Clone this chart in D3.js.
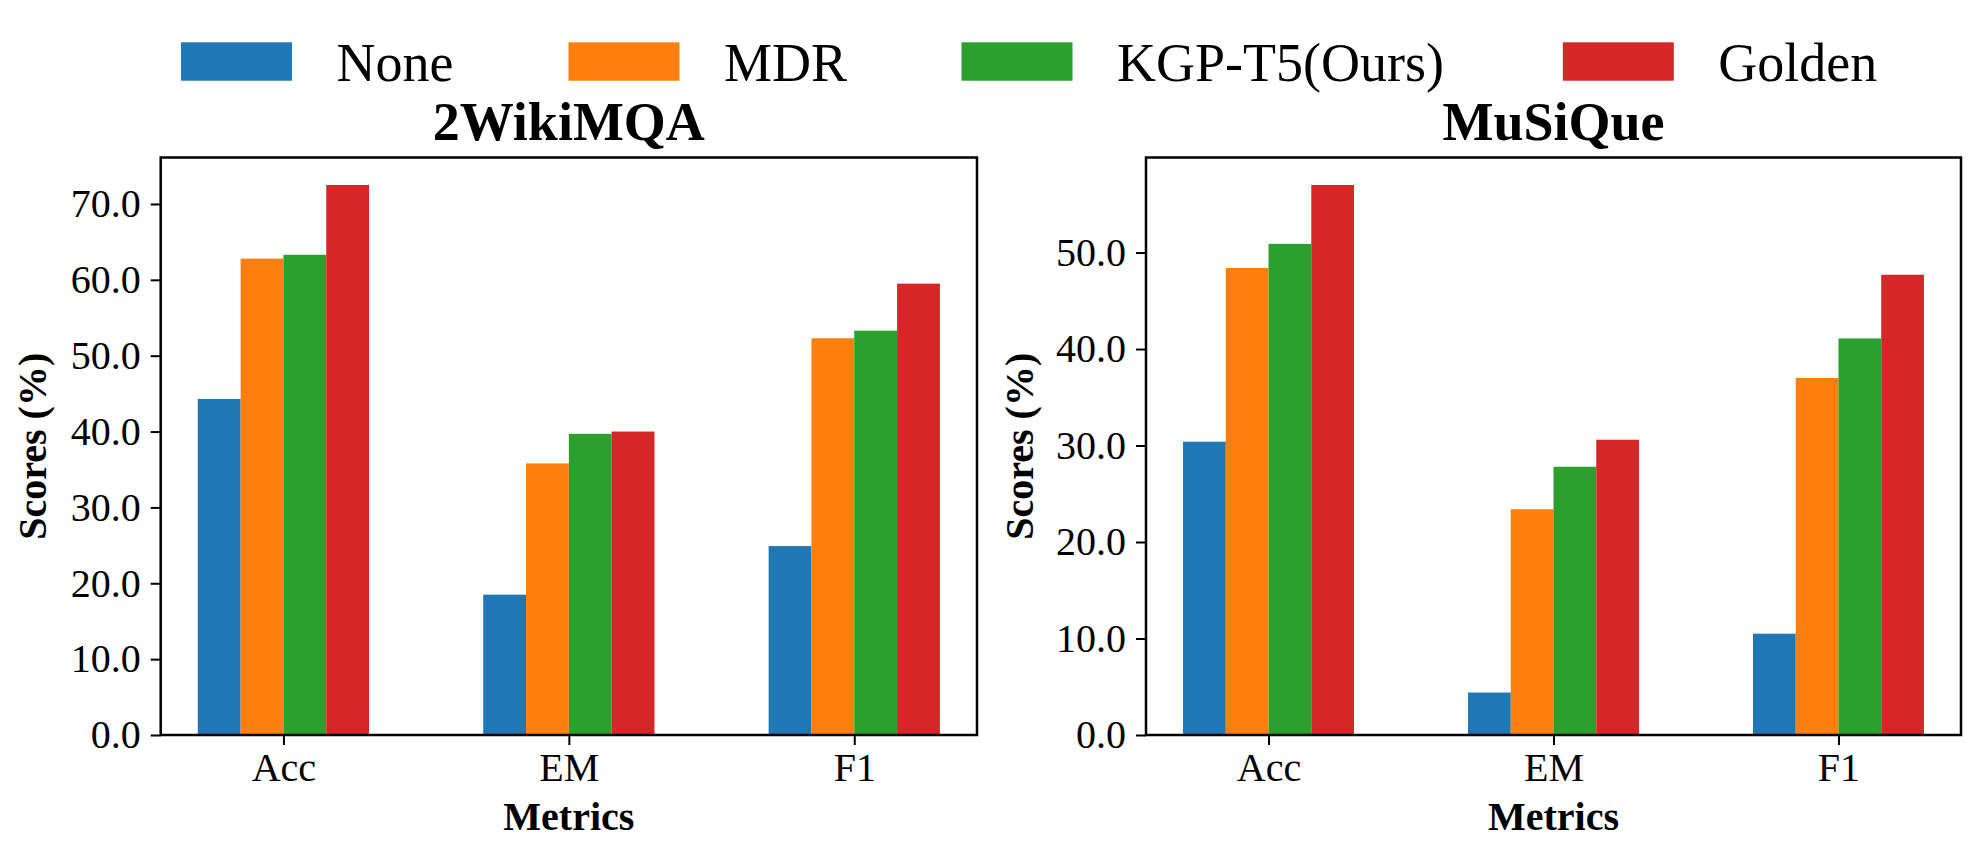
<!DOCTYPE html>
<html>
<head>
<meta charset="utf-8">
<script src="https://cdn.jsdelivr.net/npm/d3@7"></script>
<style>
  html, body { margin: 0; padding: 0; background: #fff; }
  svg { display: block; font-family: "Liberation Serif", "Times New Roman", serif; }
</style>
</head>
<body>
<svg id="chart" width="1981" height="862"></svg>
<script>
// ---- data ----
const metrics = ["Acc", "EM", "F1"];
const methods = ["None", "MDR", "KGP-T5(Ours)", "Golden"];
const colors = ["#1f77b4", "#ff7f0e", "#2ca02c", "#d62728"];

const titles = ["2WikiMQA", "MuSiQue"];

// 2WikiMQA
const wiki_none   = [44.3, 18.5, 24.9];
const wiki_mdr    = [62.8, 35.8, 52.3];
const wiki_kgp    = [63.3, 39.7, 53.3];
const wiki_golden = [72.5, 40.0, 59.5];

// MuSiQue
const musique_none   = [30.4, 4.4, 10.5];
const musique_mdr    = [48.4, 23.4, 37.0];
const musique_kgp    = [50.9, 27.8, 41.1];
const musique_golden = [57.0, 30.6, 47.7];

const wikiTicks = [0, 10, 20, 30, 40, 50, 60, 70];
const musiqueTicks = [0, 10, 20, 30, 40, 50];

const yLabel = "Scores (%)";
const xLabel = "Metrics";

// ---- layout ----
const svg = d3.select("#chart");
const axTop = 157.5, axBottom = 735;
const panels = [
  { title: titles[0], series: [wiki_none, wiki_mdr, wiki_kgp, wiki_golden], ticks: wikiTicks,
    left: 160.7, right: 977, ylabelX: 46 },
  { title: titles[1], series: [musique_none, musique_mdr, musique_kgp, musique_golden], ticks: musiqueTicks,
    left: 1146, right: 1961, ylabelX: 1033 }
];

const barW = 0.15;
const nS = methods.length;

panels.forEach(p => {
  const maxV = d3.max(p.series.flat());
  const y = d3.scaleLinear().domain([0, maxV * 1.05]).range([axBottom, axTop]);
  const lo = -(nS / 2) * barW, hi = (metrics.length - 1) + (nS / 2) * barW;
  const pad = (hi - lo) * 0.05;
  const x = d3.scaleLinear().domain([lo - pad, hi + pad]).range([p.left, p.right]);

  const g = svg.append("g");

  // bars
  p.series.forEach((vals, si) => {
    g.selectAll(null).data(vals).enter().append("rect")
      .attr("x", (d, i) => x(i + (si - (nS - 1) / 2) * barW - barW / 2))
      .attr("width", x(barW) - x(0))
      .attr("y", d => y(d))
      .attr("height", d => y(0) - y(d))
      .attr("fill", colors[si]);
  });

  // y axis
  const yAxis = d3.axisLeft(y).tickValues(p.ticks).tickFormat(d3.format(".1f")).tickSize(10).tickPadding(10);
  const ya = g.append("g").attr("transform", `translate(${p.left},0)`).call(yAxis);
  ya.select(".domain").remove();
  ya.selectAll("line").attr("stroke", "#000").attr("stroke-width", 2);
  ya.selectAll("text").attr("font-size", 40).attr("fill", "#000")
    .attr("font-family", "Liberation Serif, Times New Roman, serif");

  // x axis
  const xAxis = d3.axisBottom(x).tickValues(d3.range(metrics.length)).tickFormat(i => metrics[i]).tickSize(10).tickPadding(8);
  const xa = g.append("g").attr("transform", `translate(0,${axBottom})`).call(xAxis);
  xa.select(".domain").remove();
  xa.selectAll("line").attr("stroke", "#000").attr("stroke-width", 2);
  xa.selectAll("text").attr("font-size", 40).attr("fill", "#000")
    .attr("font-family", "Liberation Serif, Times New Roman, serif");

  // frame
  g.append("rect").attr("x", p.left).attr("y", axTop)
    .attr("width", p.right - p.left).attr("height", axBottom - axTop)
    .attr("fill", "none").attr("stroke", "#000").attr("stroke-width", 2.5);

  // title
  g.append("text").attr("x", (p.left + p.right) / 2).attr("y", 140)
    .attr("text-anchor", "middle").attr("font-size", 54).attr("font-weight", "bold")
    .text(p.title);

  // x label
  g.append("text").attr("x", (p.left + p.right) / 2).attr("y", 830)
    .attr("text-anchor", "middle").attr("font-size", 40).attr("font-weight", "bold")
    .text(xLabel);

  // y label
  g.append("text")
    .attr("transform", `translate(${p.ylabelX},${(axTop + axBottom) / 2}) rotate(-90)`)
    .attr("text-anchor", "middle").attr("font-size", 40).attr("font-weight", "bold")
    .text(yLabel);
});

// legend
const legendX = [181, 568.5, 961.5, 1562.8];
const leg = svg.append("g");
methods.forEach((m, i) => {
  leg.append("rect").attr("x", legendX[i]).attr("y", 42.3).attr("width", 111).attr("height", 38.4)
    .attr("fill", colors[i]);
  leg.append("text").attr("x", legendX[i] + 155.5).attr("y", 81)
    .attr("font-size", 54).attr("fill", "#000").text(m);
});
</script>
</body>
</html>
